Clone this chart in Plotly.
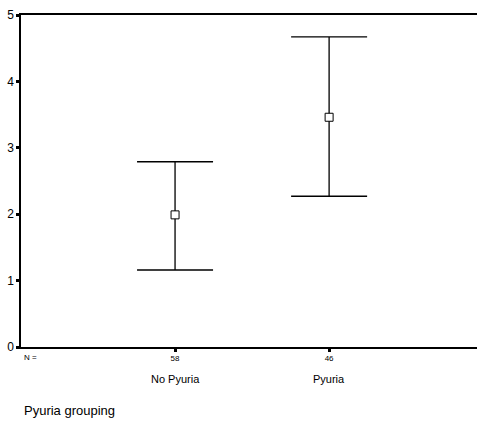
import plotly.graph_objects as go

groups = ["No Pyuria", "Pyuria"]
n_values = ["58", "46"]
means = [1.99, 3.46]
upper = [2.79, 4.67]
lower = [1.16, 2.27]
x_pos = [1, 2]
y_ticks = [0, 1, 2, 3, 4, 5]

err_plus = [u - m for u, m in zip(upper, means)]
err_minus = [m - l for m, l in zip(means, lower)]

font = "Liberation Sans, Arial, sans-serif"

fig = go.Figure()
fig.add_trace(go.Scatter(
    x=x_pos, y=means, mode="markers",
    marker=dict(symbol="square", size=8, color="white", line=dict(color="black", width=1)),
    error_y=dict(type="data", symmetric=False, array=err_plus, arrayminus=err_minus,
                 color="black", thickness=1.3, width=38),
    showlegend=False, cliponaxis=False,
))

for xp, g in zip(x_pos, groups):
    fig.add_annotation(x=xp, y=0, xref="x", yref="paper", yshift=-40, text=g,
                       showarrow=False, font=dict(size=11, color="black", family=font))
fig.add_annotation(x=0, y=0, xref="paper", yref="paper", xshift=1, yshift=-10,
                   xanchor="left", yanchor="middle", text="N =", showarrow=False,
                   font=dict(size=8, color="black", family=font))
fig.add_annotation(x=0, y=0, xref="paper", yref="paper", yshift=-63, xshift=1, text="Pyuria grouping",
                   showarrow=False, xanchor="left", yanchor="middle",
                   font=dict(size=13, color="black", family=font))

fig.update_layout(
    width=477, height=426,
    margin=dict(l=21, r=0, t=15, b=79),
    plot_bgcolor="white", paper_bgcolor="white",
    font=dict(family=font, color="black"),
    xaxis=dict(range=[0, 2.96], tickvals=x_pos, ticktext=n_values, showgrid=False, zeroline=False,
               showline=True, linecolor="black", linewidth=1.5, mirror=True,
               ticks="outside", ticklen=3, tickwidth=3, tickcolor="black",
               tickfont=dict(size=8, family=font)),
    yaxis=dict(range=[0, 5], tickvals=y_ticks, showgrid=False, zeroline=False,
               showline=True, linecolor="black", linewidth=1.5,
               ticks="outside", ticklen=3, tickwidth=3, tickcolor="black",
               tickfont=dict(size=12, family=font)),
)

fig.write_html("out.html", config={"displayModeBar": False},
               post_script="document.body.style.margin='0';document.body.style.overflow='hidden';")
